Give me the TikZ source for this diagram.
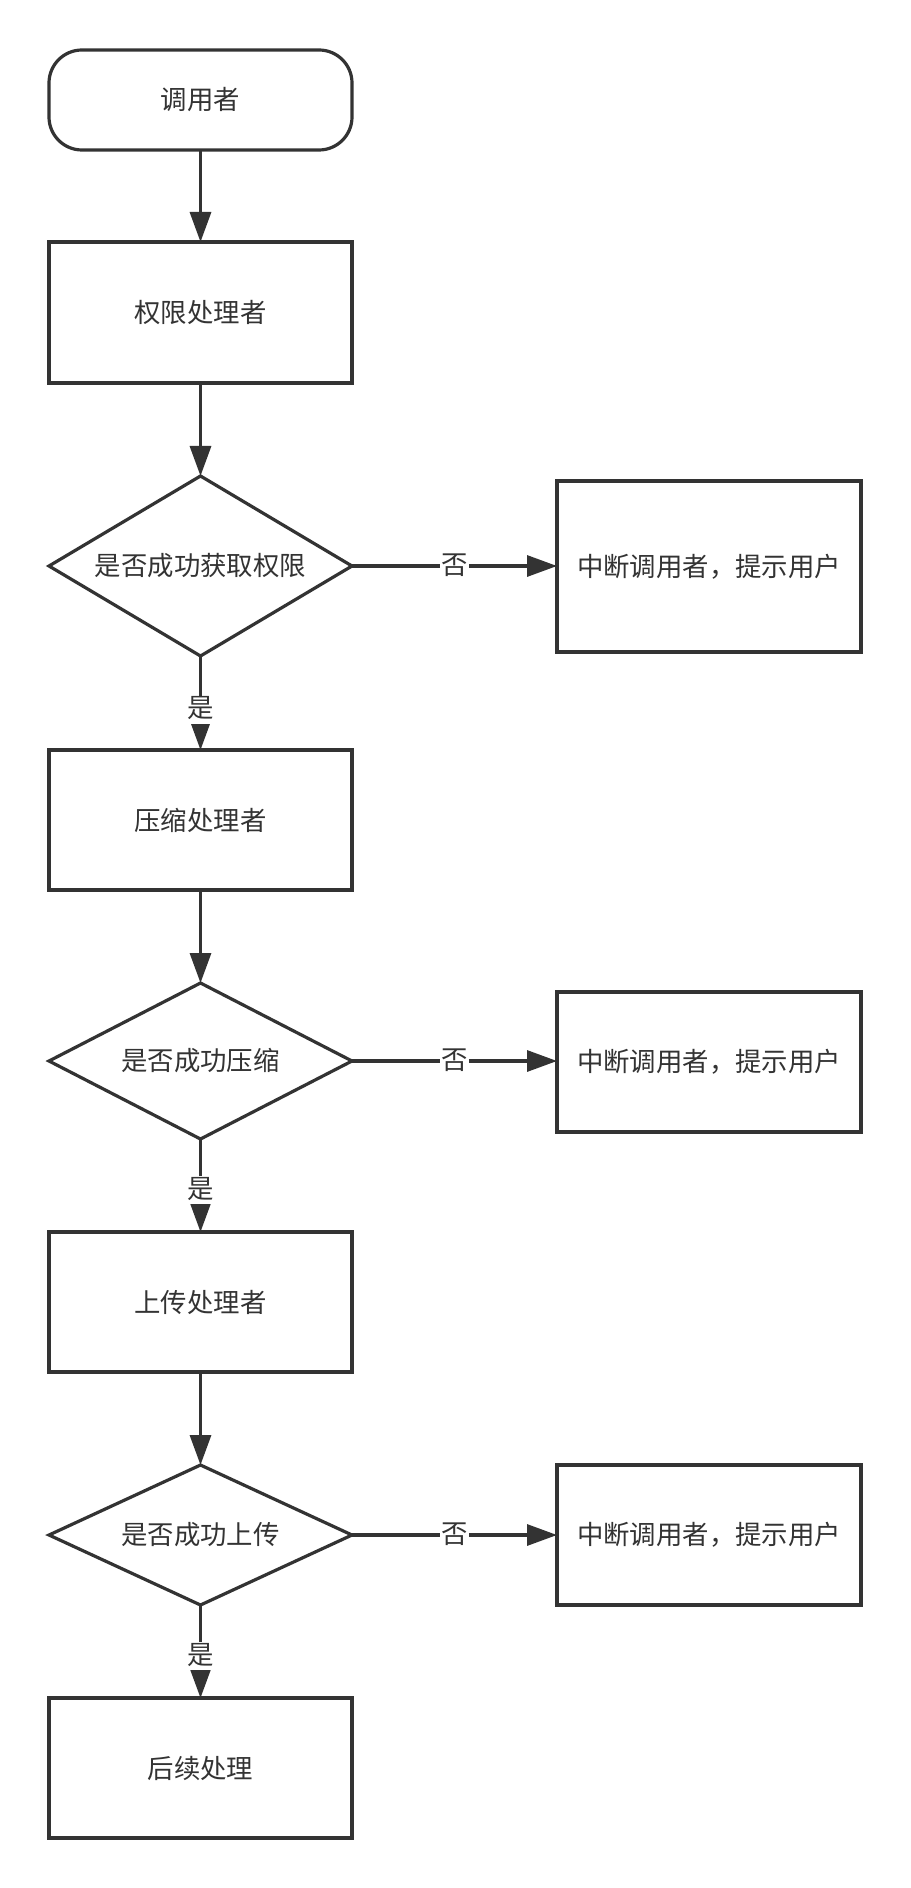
\documentclass[tikz,border=0pt]{standalone}
\usepackage{fontspec}
\setmainfont{Noto Sans CJK SC}
\usetikzlibrary{shapes.geometric,arrows.meta}
\definecolor{ink}{HTML}{333333}
\tikzset{
  base/.style={draw=ink, line width=1.6pt, text=ink, font=\fontsize{13.2pt}{15pt}\selectfont,
    inner sep=0pt, outer sep=0pt, minimum width=151.5pt},
  txt/.style={yshift=-1.5pt},
  procbox/.style={base, rectangle, minimum height=70pt},
  termbox/.style={base, rectangle, rounded corners=16.5pt, minimum height=50pt},
  decision/.style={base, diamond},
  flow/.style={draw=ink, line width=1.6pt, -{Triangle[length=15pt,width=10.5pt]}},
  lab/.style={fill=white, text=ink, font=\fontsize{13.2pt}{15pt}\selectfont,
    inner xsep=0.5pt, inner ysep=1pt, text height=10pt, text depth=2pt}
}
\newcommand{\lowered}[1]{\raisebox{-1.5pt}{#1}}
\begin{document}
\begin{tikzpicture}[x=0.5pt,y=-0.5pt]
\useasboundingbox[fill=white] (0,0) rectangle (910,1888);
\node[termbox] (caller) at (200.5,100) {\lowered{调用者}};
\node[procbox, minimum height=70.5pt] (auth) at (200.5,312.5) {\lowered{权限处理者}};
\node[decision, minimum height=90pt, shape aspect=1.68] (d1) at (200.5,566) {\lowered{是否成功获取权限}};
\node[procbox, minimum height=85.5pt, minimum width=152pt] (r1) at (709,566.5) {\lowered{中断调用者，提示用户}};
\node[procbox] (zip) at (200.5,820) {\lowered{压缩处理者}};
\node[decision, minimum height=78pt, shape aspect=1.94] (d2) at (200.5,1061) {\lowered{是否成功压缩}};
\node[procbox, minimum width=152pt] (r2) at (709,1062) {\lowered{中断调用者，提示用户}};
\node[procbox] (up) at (200.5,1302) {\lowered{上传处理者}};
\node[decision, minimum height=70pt, shape aspect=2.16] (d3) at (200.5,1535) {\lowered{是否成功上传}};
\node[procbox, minimum width=152pt] (r3) at (709,1535) {\lowered{中断调用者，提示用户}};
\node[procbox] (post) at (200.5,1768) {\lowered{后续处理}};

\draw[flow] (caller) -- (auth);
\draw[flow] (auth) -- (d1);
\draw[flow] (d1) -- node[lab, pos=0.57] {是} (zip);
\draw[flow] (d1.east) -- node[lab] {否} (d1.east -| r1.west);
\draw[flow] (zip) -- (d2);
\draw[flow] (d2) -- node[lab, pos=0.55] {是} (up);
\draw[flow] (d2.east) -- node[lab] {否} (d2.east -| r2.west);
\draw[flow] (up) -- (d3);
\draw[flow] (d3) -- node[lab, pos=0.55] {是} (post);
\draw[flow] (d3.east) -- node[lab] {否} (d3.east -| r3.west);
\end{tikzpicture}
\end{document}
